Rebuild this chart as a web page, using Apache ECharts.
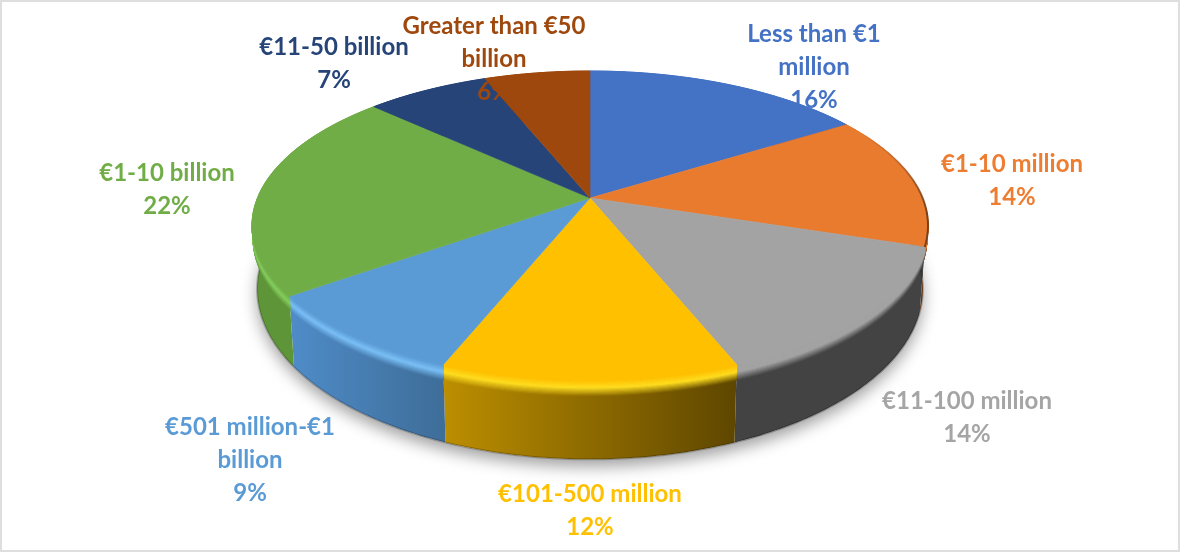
<!DOCTYPE html>
<html>
<head>
<meta charset="utf-8">
<style>html,body{margin:0;padding:0;background:#fff}#chart{width:1180px;height:553px}</style>
<script src="https://cdn.jsdelivr.net/npm/echarts@6/dist/echarts.min.js"></script>
</head>
<body>
<div id="chart"></div>
<script>
// Companies by revenue band
const categories = ['Less than €1\nmillion', '€1-10 million', '€11-100 million', '€101-500 million',
  '€501 million-€1\nbillion', '€1-10 billion', '€11-50 billion', 'Greater than €50\nbillion'];
const shares = [16, 14, 14, 12, 9, 22, 7, 6];

// Slice styling
const faceColors = ['#4472C4', '#E97B2F', '#A3A3A3', '#FFC000', '#5B9BD5', '#70AD47', '#264478', '#9E480E'];
const labelColors = ['#4472C4', '#ED7D31', '#A5A5A5', '#FFC000', '#5B9BD5', '#70AD47', '#264478', '#9E480E'];
const rimColors = ['#4472C4', '#E97B2F', '#A3A3A3', '#FFDD1F', '#7ABFF6', '#84CE5C', '#264478', '#9E480E'];
const wallLeft = ['#2F4F88', '#7A4018', '#434343', '#BC8E00', '#4F8CC8', '#5F9539', '#1A2F53', '#6E320A'];
const wallRight = ['#2F4F88', '#7A4018', '#434343', '#5E4600', '#3E6D98', '#5F9539', '#1A2F53', '#6E320A'];
const edgeShade = [null, 'rgba(110,58,20,', null, null, null, null, null, null];
const labelCenters = [[814, 67], [1012, 181], [967, 418], [590, 511], [250, 460], [167, 190], [334, 64], [494, 59]];

// Perspective disc: top plane and bottom plane of the pie
const CX = 590;
const PLANE_TOP = { cy: 198, ry: 149.6, r: 332.6 };
const PLANE_BOTTOM = { cy: 258.6, ry: 165, r: 327.6 };
const TILT = 0.178;
const BEVEL = 0.2;
const BEVEL_STEPS = 14;
const BEVEL_PEAK = 0.45;

const mix = (a, b, f) => a + (b - a) * f;
function project(theta, t) {
  const s = Math.sin(theta), c = Math.cos(theta), w = 1 + TILT * c;
  return [
    CX + mix(PLANE_TOP.r, PLANE_BOTTOM.r, t) * s / w,
    mix(PLANE_TOP.cy, PLANE_BOTTOM.cy, t) - mix(PLANE_TOP.ry, PLANE_BOTTOM.ry, t) * c / w
  ];
}
function arc(a0, a1, t) {
  const n = Math.max(2, Math.ceil((a1 - a0) / 0.015));
  const pts = [];
  for (let i = 0; i <= n; i++) pts.push(project(a0 + (a1 - a0) * i / n, t));
  return pts;
}
function hexMix(h1, h2, f) {
  const p = h => [1, 3, 5].map(i => parseInt(h.substr(i, 2), 16));
  const a = p(h1), b = p(h2);
  return 'rgb(' + a.map((v, i) => Math.round(mix(v, b[i], f))).join(',') + ')';
}
function hGrad(c0, c1) {
  return { type: 'linear', x: 0, y: 0, x2: 1, y2: 0, colorStops: [{ offset: 0, color: c0 }, { offset: 1, color: c1 }] };
}
function bevelColor(i, side, f) {
  const end = side ? wallRight[i] : wallLeft[i];
  return f < BEVEL_PEAK
    ? hexMix(faceColors[i], rimColors[i], f / BEVEL_PEAK)
    : hexMix(rimColors[i], end, (f - BEVEL_PEAK) / (1 - BEVEL_PEAK));
}

const total = shares.reduce((a, b) => a + b, 0);

function renderSlice(params, api) {
  const i = params.dataIndex;
  const before = shares.slice(0, i).reduce((a, b) => a + b, 0);
  const a0 = before / total * Math.PI * 2;
  const a1 = a0 + api.value(0) / total * Math.PI * 2;
  const children = [];

  if (i === 0) {
    // Soft shadow cast under the whole disc
    children.push({
      type: 'polygon', z2: 0,
      shape: { points: arc(0, Math.PI * 2, 1) },
      style: { fill: '#fff', shadowColor: 'rgba(0,0,0,0.38)', shadowBlur: 16, shadowOffsetY: 7 }
    });
  }

  // Side wall
  children.push({
    type: 'polygon', z2: 1,
    shape: { points: arc(a0, a1, 0).concat(arc(a0, a1, 1).reverse()) },
    style: { fill: hGrad(wallLeft[i], wallRight[i]) }
  });
  children.push({
    type: 'polyline', z2: 2,
    shape: { points: arc(a0, a1, 1) },
    style: { fill: 'none', stroke: 'rgba(0,0,0,0.22)', lineWidth: 2 }
  });

  // Rounded edge between face and wall, painted lowest band first
  for (let j = BEVEL_STEPS - 1; j >= 0; j--) {
    const f0 = j / BEVEL_STEPS, f1 = (j + 1) / BEVEL_STEPS, fm = (f0 + f1) / 2;
    const fill = hGrad(bevelColor(i, 0, fm), bevelColor(i, 1, fm));
    children.push({
      type: 'polygon', z2: 3,
      shape: { points: arc(a0, a1, f0 * BEVEL).concat(arc(a0, a1, f1 * BEVEL).reverse()) },
      style: { fill, stroke: fill, lineWidth: 1 }
    });
  }

  // Top face
  children.push({
    type: 'polygon', z2: 4,
    shape: { points: [[CX, PLANE_TOP.cy]].concat(arc(a0, a1, 0)) },
    style: { fill: faceColors[i], stroke: faceColors[i], lineWidth: 0.6 }
  });

  // Darkened outer edge where the face turns away from the light, fading in along the arc
  if (edgeShade[i]) {
    children.push({
      type: 'polyline', z2: 5,
      shape: { points: arc(a0 + 0.1, a1, 0) },
      style: {
        fill: 'none', lineWidth: 2,
        stroke: {
          type: 'linear', x: 0, y: 0, x2: 0, y2: 1,
          colorStops: [{ offset: 0, color: edgeShade[i] + '0)' }, { offset: 0.7, color: edgeShade[i] + '0.9)' }, { offset: 1, color: edgeShade[i] + '0.9)' }]
        }
      }
    });
  }

  // Category and percentage
  children.push({
    type: 'text', z2: 10,
    x: labelCenters[i][0], y: labelCenters[i][1],
    style: {
      text: categories[i] + '\n' + api.value(0) + '%',
      fill: labelColors[i],
      fontFamily: 'Lato', fontWeight: 'bold', fontSize: 24,
      lineHeight: 33, align: 'center', verticalAlign: 'middle'
    }
  });
  return { type: 'group', children };
}

const chart = echarts.init(document.getElementById('chart'), null, { renderer: 'canvas' });
chart.setOption({
  animation: false,
  backgroundColor: '#fff',
  graphic: [{
    type: 'rect', silent: true, z: 20,
    shape: { x: 1, y: 1, width: 1178, height: 550 },
    style: { fill: 'none', stroke: '#dedede', lineWidth: 2 }
  }],
  series: [{
    type: 'custom',
    coordinateSystem: 'none',
    silent: true,
    renderItem: renderSlice,
    data: shares.map(v => [v])
  }]
});
</script>
</body>
</html>
